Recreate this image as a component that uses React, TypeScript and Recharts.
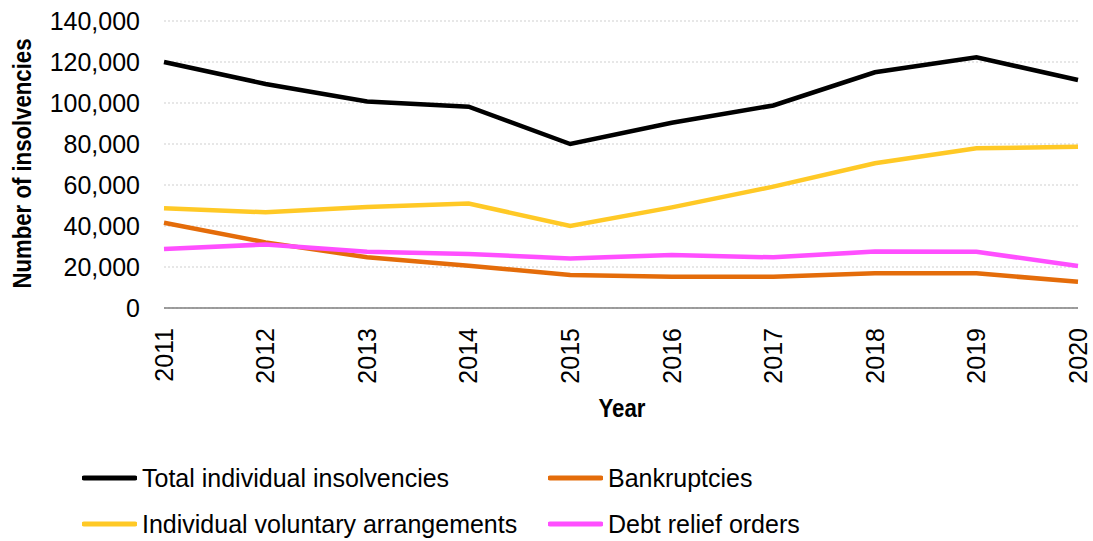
import React from 'react';
import { LineChart, Line, XAxis, YAxis, CartesianGrid, Legend, Label } from 'recharts';

const years = ['2011', '2012', '2013', '2014', '2015', '2016', '2017', '2018', '2019', '2020'];
const totalInsolvencies = [120000, 109300, 100700, 98200, 80000, 90400, 98800, 115000, 122300, 111200];
const bankruptcies = [41600, 32000, 24800, 20600, 16100, 15300, 15300, 16900, 16900, 12800];
const ivas = [48600, 46700, 49300, 51000, 40000, 49100, 59200, 70600, 77900, 78700];
const dros = [28800, 31000, 27400, 26300, 24200, 25900, 24700, 27500, 27400, 20500];
const yTicks = [0, 20000, 40000, 60000, 80000, 100000, 120000, 140000];

// legend / drawing order
const seriesNames = [
  'Total individual insolvencies',
  'Bankruptcies',
  'Individual voluntary arrangements',
  'Debt relief orders',
];

const chartData = years.map((year, i) => ({
  year,
  total: totalInsolvencies[i],
  bankruptcies: bankruptcies[i],
  iva: ivas[i],
  dro: dros[i],
}));

const FONT = '"Liberation Sans", Arial, sans-serif';

const XTick = (props: any) => {
  const { x, y, payload } = props;
  return (
    <text
      x={x}
      y={y}
      dy="0.35em"
      textAnchor="end"
      transform={`rotate(-90, ${x}, ${y})`}
      fontFamily={FONT}
      fontSize={25}
      fill="#000"
    >
      {payload.value}
    </text>
  );
};

const YTick = (props: any) => {
  const { x, y, payload } = props;
  return (
    <text x={x} y={y} dy="0.35em" textAnchor="end" fontFamily={FONT} fontSize={25} fill="#000">
      {Number(payload.value).toLocaleString('en-GB')}
    </text>
  );
};

const YAxisTitle = (props: any) => {
  const { viewBox } = props;
  const cx = viewBox.x + 22;
  const cy = viewBox.y + viewBox.height / 2 - 1;
  return (
    <text
      x={cx}
      y={cy}
      dy="0.35em"
      textAnchor="middle"
      transform={`rotate(-90, ${cx}, ${cy})`}
      fontFamily={FONT}
      fontWeight="bold"
      fontSize={25}
      textLength={250}
      lengthAdjust="spacingAndGlyphs"
      fill="#000"
    >
      Number of insolvencies
    </text>
  );
};

const XAxisTitle = (props: any) => {
  const { viewBox } = props;
  const cx = viewBox.x + viewBox.width / 2 + 1;
  return (
    <text
      x={cx}
      y={viewBox.y + 109}
      textAnchor="middle"
      fontFamily={FONT}
      fontWeight="bold"
      fontSize={25}
      textLength={47}
      lengthAdjust="spacingAndGlyphs"
      fill="#000"
    >
      Year
    </text>
  );
};

const LegendBox = (props: any) => {
  const { payload = [] } = props;
  const items = seriesNames
    .map((name) => payload.find((p: any) => p.value === name))
    .filter(Boolean);
  return (
    <div
      style={{
        display: 'grid',
        gridTemplateColumns: '466px 400px',
        fontFamily: FONT,
        fontSize: 25,
        color: '#000',
      }}
    >
      {items.map((p: any) => (
        <div key={p.value} style={{ display: 'flex', alignItems: 'center', height: 46 }}>
          <svg width={55} height={6} style={{ marginRight: 5 }}>
            <line x1={2} y1={3} x2={53} y2={3} stroke={p.color} strokeWidth={5} strokeLinecap="round" />
          </svg>
          <span>{p.value}</span>
        </div>
      ))}
    </div>
  );
};

export default function App() {
  return (
    <div style={{ position: 'absolute', left: 0, top: 0, background: '#fff' }}>
      <LineChart width={1093} height={541} data={chartData} margin={{ top: 21, right: 15, left: 0, bottom: 0 }}>
        <CartesianGrid vertical={false} stroke="#cfcfcf" strokeDasharray="2 2" />
        <XAxis
          dataKey="year"
          height={233}
          tick={<XTick />}
          tickLine={false}
          tickSize={0}
          tickMargin={20}
          axisLine={{ stroke: '#7f7f7f', strokeWidth: 1.5 }}
          interval={0}
        >
          <Label content={<XAxisTitle />} />
        </XAxis>
        <YAxis
          width={164}
          domain={[0, 140000]}
          ticks={yTicks}
          tick={<YTick />}
          tickLine={false}
          tickSize={0}
          tickMargin={24}
          axisLine={false}
          interval={0}
        >
          <Label content={<YAxisTitle />} />
        </YAxis>
        <Legend
          layout="vertical"
          align="center"
          verticalAlign="middle"
          wrapperStyle={{ position: 'absolute', top: 455, left: 82, width: 900 }}
          content={<LegendBox />}
        />
        <Line type="linear" dataKey="total" name={seriesNames[0]} stroke="#000000" strokeWidth={4.5} dot={false} isAnimationActive={false} />
        <Line type="linear" dataKey="bankruptcies" name={seriesNames[1]} stroke="#E46C0A" strokeWidth={4.5} dot={false} isAnimationActive={false} />
        <Line type="linear" dataKey="iva" name={seriesNames[2]} stroke="#FFC926" strokeWidth={4.5} dot={false} isAnimationActive={false} />
        <Line type="linear" dataKey="dro" name={seriesNames[3]} stroke="#FF4FFF" strokeWidth={4.5} dot={false} isAnimationActive={false} />
      </LineChart>
    </div>
  );
}
